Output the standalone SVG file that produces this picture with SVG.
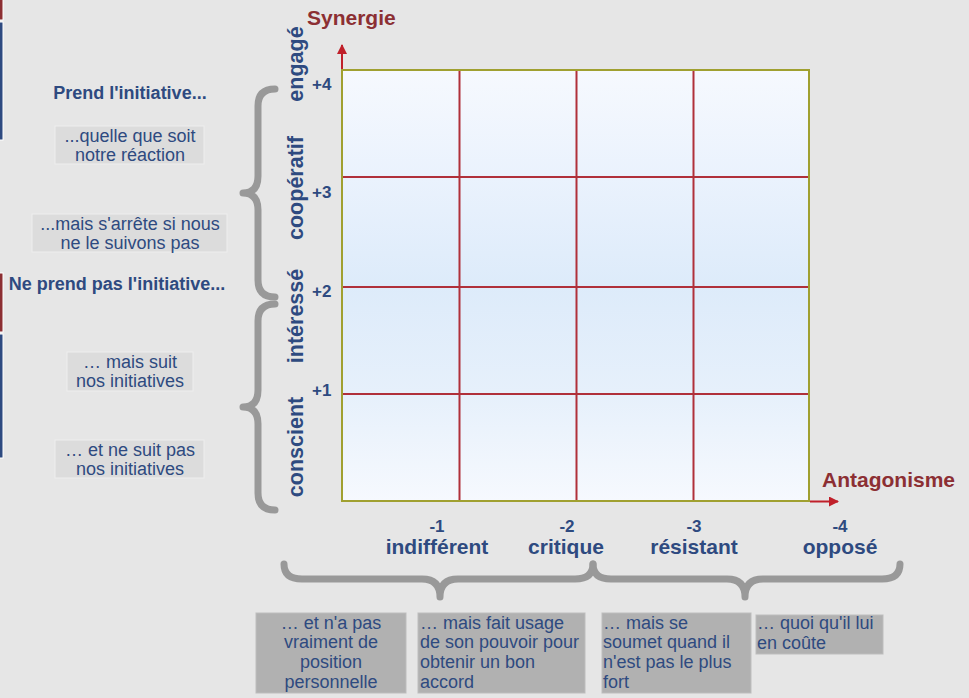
<svg xmlns="http://www.w3.org/2000/svg" width="969" height="698" viewBox="0 0 969 698">
<defs>
<linearGradient id="gfill" x1="0" y1="0" x2="0" y2="1">
<stop offset="0" stop-color="#f6f9fe"/>
<stop offset="0.25" stop-color="#eaf2fd"/>
<stop offset="0.5" stop-color="#ddebfa"/>
<stop offset="0.75" stop-color="#e6f0fb"/>
<stop offset="1" stop-color="#f6f9fe"/>
</linearGradient>
<marker id="arr" viewBox="0 0 10 10" refX="9" refY="5" markerWidth="10" markerHeight="10" markerUnits="userSpaceOnUse" orient="auto">
<path d="M0,0 L10,5 L0,10 Z" fill="#c0202a"/>
</marker>
<style>
.t{font-family:"Liberation Sans",Arial,sans-serif;fill:#2e4a80}
.b{font-weight:bold}
.ax{font-family:"Liberation Sans",Arial,sans-serif;font-weight:bold;fill:#8c2f33;font-size:21px}
.lbl{font-size:18px}
.vl{font-size:21.5px;font-weight:bold}
.num{font-size:17px;font-weight:bold}
.cat{font-size:21px;font-weight:bold}
.lb{fill:#dcdcdc;stroke:#eeeeee;stroke-width:1}
.db{fill:#b1b1b1;stroke:#bdbdbd;stroke-width:1}
.brace{fill:none;stroke:#999999;stroke-width:7;stroke-linecap:round;stroke-linejoin:round}
.grid{stroke:#b0303a;stroke-width:2}
.bar{stroke:#ffffff;stroke-width:1}
</style>
</defs>
<rect x="0" y="0" width="969" height="698" fill="#e6e6e6"/>

<g id="edge-bars">
<rect class="bar" x="-1" y="-1" width="4" height="21" fill="#8c2f33"/>
<rect class="bar" x="-1" y="22" width="4" height="118" fill="#2e4a80"/>
<rect class="bar" x="-1" y="273" width="4" height="59" fill="#8c2f33"/>
<rect class="bar" x="-1" y="334" width="4" height="124" fill="#2e4a80"/>
</g>

<g id="grid">
<rect x="342" y="70" width="467" height="431" fill="url(#gfill)"/>
<line class="grid" x1="459.5" y1="70" x2="459.5" y2="501"/>
<line class="grid" x1="576.5" y1="70" x2="576.5" y2="501"/>
<line class="grid" x1="693.5" y1="70" x2="693.5" y2="501"/>
<line class="grid" x1="342" y1="177" x2="809" y2="177"/>
<line class="grid" x1="342" y1="287" x2="809" y2="287"/>
<line class="grid" x1="342" y1="394" x2="809" y2="394"/>
<rect x="342" y="70" width="467" height="431" fill="none" stroke="#a0a030" stroke-width="2"/>
</g>

<g id="connectors">
<line x1="342" y1="69" x2="342" y2="45" stroke="#c0202a" stroke-width="2" marker-end="url(#arr)"/>
<line x1="810" y1="501.5" x2="838" y2="501.5" stroke="#c0202a" stroke-width="2" marker-end="url(#arr)"/>
<path class="brace" d="M275,89 Q258,89 258,106 L258,176 Q258,193 243,193 Q258,193 258,210 L258,280 Q258,297 275,297"/>
<path class="brace" d="M275,304 Q258,304 258,321 L258,390 Q258,407 243,407 Q258,407 258,424 L258,493 Q258,510 275,510"/>
<path class="brace" d="M284,564 Q284,579 302,579 L422,579 Q440,579 440,597 Q440,579 458,579 L575,579 Q593,579 593,564"/>
<path class="brace" d="M593,564 Q593,579 611,579 L727,579 Q745,579 745,597 Q745,579 763,579 L882,579 Q900,579 900,564"/>
</g>

<g id="axis-titles">
<text class="ax" x="307" y="25">Synergie</text>
<text class="ax" x="822" y="487">Antagonisme</text>
</g>

<g id="y-labels">
<text class="t vl" transform="translate(303,64) rotate(-90)" text-anchor="middle">engagé</text>
<text class="t vl" transform="translate(303,188) rotate(-90)" text-anchor="middle">coopératif</text>
<text class="t vl" transform="translate(303,316) rotate(-90)" text-anchor="middle">intéressé</text>
<text class="t vl" transform="translate(303,447) rotate(-90)" text-anchor="middle">conscient</text>
<text class="t num" x="312" y="90">+4</text>
<text class="t num" x="312" y="198">+3</text>
<text class="t num" x="312" y="297">+2</text>
<text class="t num" x="312" y="396">+1</text>
</g>

<g id="x-labels" text-anchor="middle">
<text class="t num" x="437" y="532">-1</text>
<text class="t cat" x="437" y="554">indifférent</text>
<text class="t num" x="567" y="532">-2</text>
<text class="t cat" x="566" y="554">critique</text>
<text class="t num" x="694" y="532">-3</text>
<text class="t cat" x="694" y="554">résistant</text>
<text class="t num" x="840" y="532">-4</text>
<text class="t cat" x="840" y="554">opposé</text>
</g>

<g id="left-notes">
<text class="t b" x="130" y="99" font-size="18" text-anchor="middle">Prend l'initiative...</text>
<g id="note-quelle">
<rect class="lb" x="55" y="126" width="149" height="38"/>
<text class="t lbl" x="130" y="142" text-anchor="middle">...quelle que soit</text>
<text class="t lbl" x="130" y="161" text-anchor="middle">notre réaction</text>
</g>
<g id="note-arrete">
<rect class="lb" x="32" y="214" width="195" height="38"/>
<text class="t lbl" x="130" y="230" text-anchor="middle">...mais s'arrête si nous</text>
<text class="t lbl" x="130" y="249" text-anchor="middle">ne le suivons pas</text>
</g>
<text class="t b" x="117" y="290" font-size="18" text-anchor="middle">Ne prend pas l'initiative...</text>
<g id="note-suit">
<rect class="lb" x="67" y="352" width="126" height="39"/>
<text class="t lbl" x="130" y="368" text-anchor="middle">… mais suit</text>
<text class="t lbl" x="130" y="387" text-anchor="middle">nos initiatives</text>
</g>
<g id="note-nesuit">
<rect class="lb" x="55" y="440" width="149" height="38"/>
<text class="t lbl" x="130" y="456" text-anchor="middle">… et ne suit pas</text>
<text class="t lbl" x="130" y="475" text-anchor="middle">nos initiatives</text>
</g>
</g>

<g id="bottom-notes">
<g id="note-position">
<rect class="db" x="256" y="613" width="150" height="80"/>
<text class="t lbl" x="331" y="629" text-anchor="middle">… et n'a pas</text>
<text class="t lbl" x="331" y="648" text-anchor="middle">vraiment de</text>
<text class="t lbl" x="331" y="668" text-anchor="middle">position</text>
<text class="t lbl" x="331" y="688" text-anchor="middle">personnelle</text>
</g>
<g id="note-pouvoir">
<rect class="db" x="418" y="613" width="167" height="80"/>
<text class="t lbl" x="420" y="629">… mais fait usage</text>
<text class="t lbl" x="420" y="648">de son pouvoir pour</text>
<text class="t lbl" x="420" y="668">obtenir un bon</text>
<text class="t lbl" x="420" y="688">accord</text>
</g>
<g id="note-soumet">
<rect class="db" x="602" y="613" width="149" height="80"/>
<text class="t lbl" x="603" y="629">… mais se</text>
<text class="t lbl" x="603" y="648">soumet quand il</text>
<text class="t lbl" x="603" y="668">n'est pas le plus</text>
<text class="t lbl" x="603" y="688">fort</text>
</g>
<g id="note-coute">
<rect class="db" x="756" y="615" width="127" height="39"/>
<text class="t lbl" x="757" y="629">… quoi qu'il lui</text>
<text class="t lbl" x="757" y="649">en coûte</text>
</g>
</g>
</svg>
